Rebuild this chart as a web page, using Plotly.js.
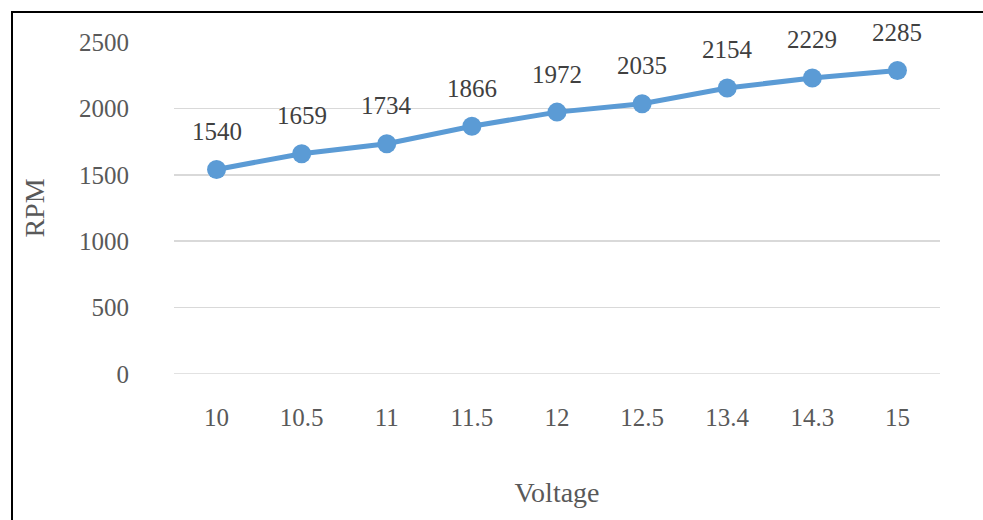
<!DOCTYPE html>
<html>
<head>
<meta charset="utf-8">
<script src="https://cdn.plot.ly/plotly-3.0.1.min.js"></script>
<style>
html,body{margin:0;padding:0;overflow:hidden;background:#fff;}
#chart{width:983px;height:520px;position:absolute;left:0;top:0;}
#frame{position:absolute;left:11px;top:11px;width:2000px;height:2000px;border:2px solid #000;pointer-events:none;}
</style>
</head>
<body>
<div id="chart"></div>
<div id="frame"></div>
<script>
const voltage = ["10","10.5","11","11.5","12","12.5","13.4","14.3","15"];
const rpm = [1540,1659,1734,1866,1972,2035,2154,2229,2285];
const yTicks = [0,500,1000,1500,2000,2500];

const font = "Liberation Serif, Times New Roman, serif";
const grey = "#595959";

const trace = {
  x: voltage, y: rpm, type: "scatter", mode: "lines+markers",
  line: {color: "#5B9BD5", width: 5},
  marker: {color: "#5B9BD5", size: 19},
  hoverinfo: "skip"
};

const annotations = voltage.map((v, i) => ({
  x: i, y: rpm[i], xref: "x", yref: "y", text: String(rpm[i]),
  showarrow: false, yanchor: "middle", xanchor: "center", yshift: 38,
  font: {family: font, size: 25, color: "#404040"}
}));

const layout = {
  width: 983, height: 520,
  margin: {l: 174, r: 43, t: 42, b: 146},
  paper_bgcolor: "#fff", plot_bgcolor: "#fff",
  showlegend: false,
  font: {family: font, size: 25, color: grey},
  xaxis: {
    type: "category", range: [-0.5, 8.5],
    showgrid: false, zeroline: false, showline: false,
    ticks: "", ticklabelstandoff: 26,
    tickfont: {family: font, size: 25, color: grey},
    title: {text: "Voltage", font: {family: font, size: 28, color: grey}, standoff: 52}
  },
  yaxis: {
    range: [0, 2500], tickvals: yTicks, ticktext: yTicks.map(String),
    showgrid: true, gridcolor: "#D9D9D9", gridwidth: 1.5,
    zeroline: false, showline: false, ticks: "", ticklabelstandoff: 44,
    tickfont: {family: font, size: 25, color: grey},
    title: {text: "RPM", font: {family: font, size: 28, color: grey}, standoff: 26}
  },
  shapes: [{type: "line", xref: "paper", yref: "y", x0: 0, x1: 1, y0: 0, y1: 0,
            line: {color: "#D9D9D9", width: 1.5}, layer: "below"}],
  annotations: annotations
};

Plotly.newPlot("chart", [trace], layout, {displayModeBar: false, staticPlot: true});
</script>
</body>
</html>
